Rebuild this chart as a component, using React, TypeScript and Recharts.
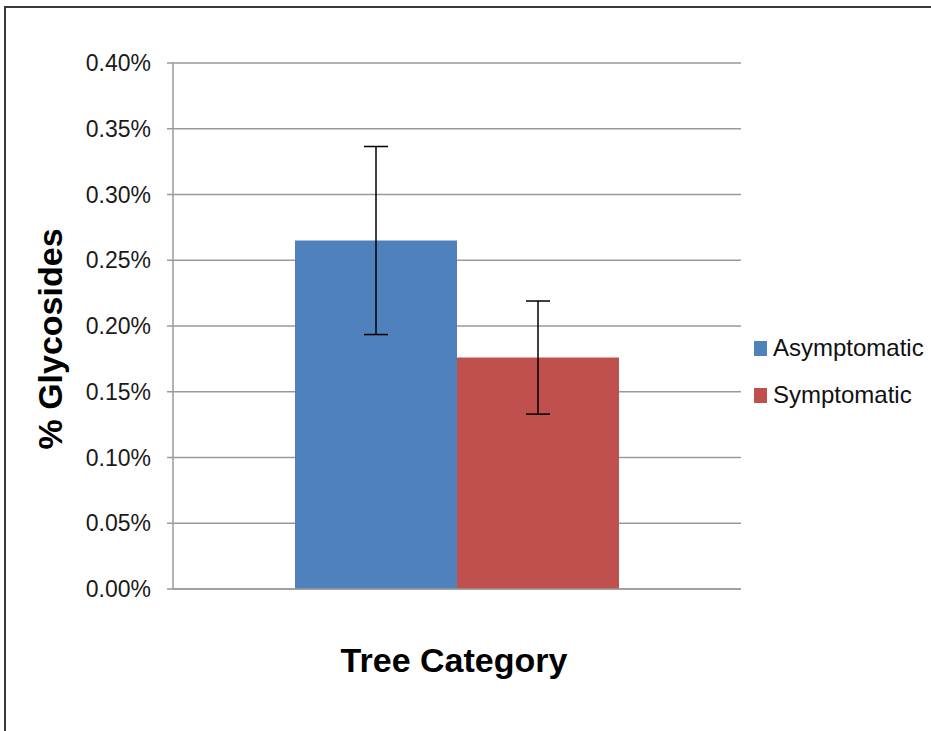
import React from 'react';
import { BarChart, Bar, XAxis, YAxis, CartesianGrid, ErrorBar, Label } from 'recharts';

// Values are in percent units (0.265 means 0.265%)
const categories = ['Tree Category'];
const asymptomatic = [0.265];
const asymptomaticErr = [0.0715];
const symptomatic = [0.176];
const symptomaticErr = [0.043];
const yTicks = [0, 0.05, 0.1, 0.15, 0.2, 0.25, 0.3, 0.35, 0.4];

const series = [
  { key: 'asym', err: 'asymErr', name: 'Asymptomatic', color: '#4F81BD' },
  { key: 'sym', err: 'symErr', name: 'Symptomatic', color: '#C0504D' },
];

const data = categories.map((c, i) => ({
  category: c,
  asym: asymptomatic[i],
  asymErr: asymptomaticErr[i],
  sym: symptomatic[i],
  symErr: symptomaticErr[i],
}));

const FONT = '"Liberation Sans", Arial, sans-serif';
const GRID = '#9a9a9a';

const App: React.FC = () => {
  return (
    <div style={{ position: 'absolute', left: 0, top: 0, width: 931, height: 731, overflow: 'hidden', background: '#fff', fontFamily: FONT }}>
      <div style={{ position: 'absolute', left: 0, top: 0 }}>
        <BarChart
          width={931}
          height={731}
          data={data}
          margin={{ top: 63, right: 190, left: 73, bottom: 42 }}
          barCategoryGap={122}
          barGap={0}
        >
          <CartesianGrid vertical={false} stroke={GRID} strokeWidth={1.5} />
          <XAxis
            dataKey="category"
            height={100}
            tick={false}
            tickLine={false}
            axisLine={{ stroke: GRID, strokeWidth: 1.5 }}
          >
            <Label
              content={(props: any) => {
                const vb = props.viewBox;
                return (
                  <text x={vb.x + vb.width / 2 - 3} y={vb.y + 83} textAnchor="middle" fontFamily={FONT} fontWeight="bold" fontSize={34} fill="#000">
                    Tree Category
                  </text>
                );
              }}
            />
          </XAxis>
          <YAxis
            width={100}
            domain={[0, 0.4]}
            ticks={yTicks}
            interval={0}
            tickFormatter={(v: number) => `${v.toFixed(2)}%`}
            tickSize={6}
            tickMargin={16}
            tick={{ fill: '#1a1a1a', fontSize: 23, fontFamily: FONT }}
            tickLine={{ stroke: GRID, strokeWidth: 1.5 }}
            axisLine={{ stroke: GRID, strokeWidth: 1.5 }}
          >
            <Label
              content={(props: any) => {
                const vb = props.viewBox;
                const cx = vb.x - 23;
                const cy = 339;
                return (
                  <text x={cx} y={cy} textAnchor="middle" dominantBaseline="central" transform={`rotate(-90 ${cx} ${cy})`} fontFamily={FONT} fontWeight="bold" fontSize={34} fill="#000">
                    % Glycosides
                  </text>
                );
              }}
            />
          </YAxis>
          {series.map(s => (
            <Bar key={s.key} dataKey={s.key} name={s.name} fill={s.color} isAnimationActive={false}>
              <ErrorBar dataKey={s.err} width={12} stroke="#000" strokeWidth={1.5} />
            </Bar>
          ))}
        </BarChart>
      </div>

      {/* legend */}
      <div style={{ position: 'absolute', left: 754, top: 333 }}>
        {series.map(s => (
          <div key={s.key} style={{ display: 'flex', alignItems: 'center', height: 30, marginBottom: 17 }}>
            <div style={{ width: 13, height: 15, background: s.color, marginRight: 6 }} />
            <span style={{ fontSize: 24, color: '#111', fontFamily: FONT }}>{s.name}</span>
          </div>
        ))}
      </div>

      {/* frame round the chart */}
      <div style={{ position: 'absolute', left: 4, top: 6, width: 960, height: 760, border: '2px solid #3a3a3a', boxSizing: 'border-box', zIndex: 5, pointerEvents: 'none' }} />
    </div>
  );
};

export default App;
